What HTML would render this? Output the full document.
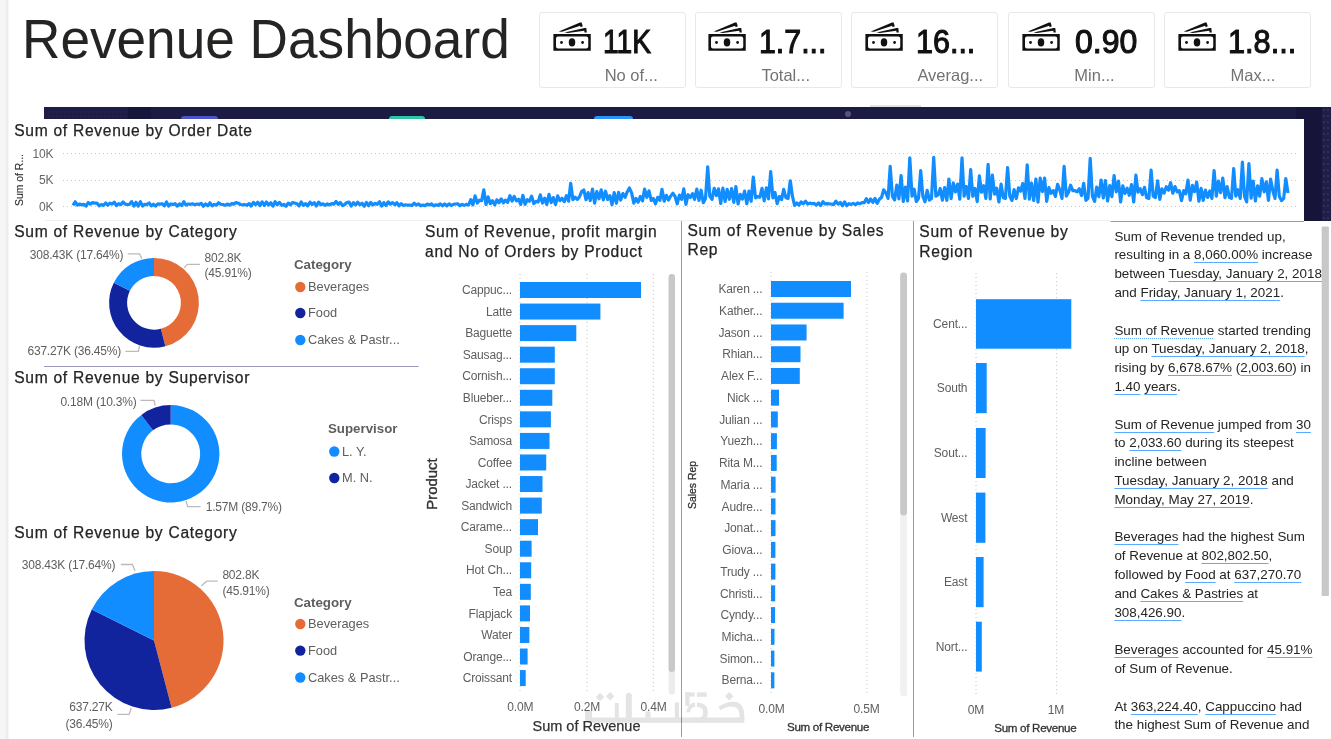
<!DOCTYPE html>
<html><head><meta charset="utf-8"><title>Revenue Dashboard</title><style>
*{margin:0;padding:0;box-sizing:border-box}
html,body{width:1331px;height:739px;overflow:hidden;background:#fff}
body{position:relative;font-family:"Liberation Sans",sans-serif;color:#252423}
.a{position:absolute;white-space:nowrap}
.u{text-decoration:underline;text-decoration-color:#5AABFF;text-underline-offset:3px;text-decoration-thickness:1.2px}
.ud{text-decoration:underline dotted;text-decoration-color:#5AABFF;text-underline-offset:3px;text-decoration-thickness:1.2px}
</style></head><body>
<div style="position:absolute;left:0;top:0;width:9px;height:739px;background:linear-gradient(90deg,#f7f7f7 0,#f4f4f4 6px,#e9e9e9 7px,#eeeeee 8px,#fff 9px)"></div>
<div class="a" style="top:6.17px;font-size:55.5px;line-height:66.6px;color:#252423;left:22.20px;transform-origin:0 0;transform:scaleX(0.958);">Revenue Dashboard</div>
<div style="position:absolute;left:538.8px;top:12.3px;width:147px;height:76px;border:1px solid #e8e8e8;border-radius:3px;background:#fff"><svg width="45" height="37" viewBox="0 0 45 37" style="position:absolute;left:9.9px;top:5px"><path fill="#111" fill-rule="evenodd" d="M3.4 15.9H40.75V32.75H3.4Z M8 18.6H36.25Q38.25 18.6 38.25 20.6V28.5Q38.25 30.5 36.25 30.5H8Q6 30.5 6 28.5V20.6Q6 18.6 8 18.6Z"/><ellipse cx="22" cy="24.4" rx="3.25" ry="4.1" fill="#111"/><circle cx="11.5" cy="24.5" r="1.4" fill="#111"/><circle cx="32.6" cy="24.5" r="1.4" fill="#111"/><path fill="#111" d="M8.75 13.4L30 4.6L31.6 4.6L32.8 8.3L30.6 9.3L30.2 7.8L12 13.8Z"/><path fill="#111" d="M14.5 14.5L34.5 10.1L36.3 10.1L36.8 14.4L34.5 14.6L34.3 12.7L18 14.9Z"/></svg></div>
<div class="a" style="top:20.82px;font-size:34px;line-height:40.8px;color:#111;left:603.00px;-webkit-text-stroke:1.1px #111;transform-origin:0 0;transform:scaleX(0.829);">11K</div>
<div class="a" style="top:66.28px;font-size:16.5px;line-height:19.8px;color:#737373;left:604.70px;">No of...</div>
<div style="position:absolute;left:694.5px;top:12.3px;width:147px;height:76px;border:1px solid #e8e8e8;border-radius:3px;background:#fff"><svg width="45" height="37" viewBox="0 0 45 37" style="position:absolute;left:9.9px;top:5px"><path fill="#111" fill-rule="evenodd" d="M3.4 15.9H40.75V32.75H3.4Z M8 18.6H36.25Q38.25 18.6 38.25 20.6V28.5Q38.25 30.5 36.25 30.5H8Q6 30.5 6 28.5V20.6Q6 18.6 8 18.6Z"/><ellipse cx="22" cy="24.4" rx="3.25" ry="4.1" fill="#111"/><circle cx="11.5" cy="24.5" r="1.4" fill="#111"/><circle cx="32.6" cy="24.5" r="1.4" fill="#111"/><path fill="#111" d="M8.75 13.4L30 4.6L31.6 4.6L32.8 8.3L30.6 9.3L30.2 7.8L12 13.8Z"/><path fill="#111" d="M14.5 14.5L34.5 10.1L36.3 10.1L36.8 14.4L34.5 14.6L34.3 12.7L18 14.9Z"/></svg></div>
<div class="a" style="top:20.82px;font-size:34px;line-height:40.8px;color:#111;left:758.58px;-webkit-text-stroke:1.1px #111;transform-origin:0 0;transform:scaleX(0.892);">1.7...</div>
<div class="a" style="top:66.28px;font-size:16.5px;line-height:19.8px;color:#737373;left:761.40px;">Total...</div>
<div style="position:absolute;left:851.2px;top:12.3px;width:147px;height:76px;border:1px solid #e8e8e8;border-radius:3px;background:#fff"><svg width="45" height="37" viewBox="0 0 45 37" style="position:absolute;left:9.9px;top:5px"><path fill="#111" fill-rule="evenodd" d="M3.4 15.9H40.75V32.75H3.4Z M8 18.6H36.25Q38.25 18.6 38.25 20.6V28.5Q38.25 30.5 36.25 30.5H8Q6 30.5 6 28.5V20.6Q6 18.6 8 18.6Z"/><ellipse cx="22" cy="24.4" rx="3.25" ry="4.1" fill="#111"/><circle cx="11.5" cy="24.5" r="1.4" fill="#111"/><circle cx="32.6" cy="24.5" r="1.4" fill="#111"/><path fill="#111" d="M8.75 13.4L30 4.6L31.6 4.6L32.8 8.3L30.6 9.3L30.2 7.8L12 13.8Z"/><path fill="#111" d="M14.5 14.5L34.5 10.1L36.3 10.1L36.8 14.4L34.5 14.6L34.3 12.7L18 14.9Z"/></svg></div>
<div class="a" style="top:20.82px;font-size:34px;line-height:40.8px;color:#111;left:916.26px;-webkit-text-stroke:1.1px #111;transform-origin:0 0;transform:scaleX(0.897);">16...</div>
<div class="a" style="top:66.28px;font-size:16.5px;line-height:19.8px;color:#737373;left:917.40px;">Averag...</div>
<div style="position:absolute;left:1008.2px;top:12.3px;width:147px;height:76px;border:1px solid #e8e8e8;border-radius:3px;background:#fff"><svg width="45" height="37" viewBox="0 0 45 37" style="position:absolute;left:9.9px;top:5px"><path fill="#111" fill-rule="evenodd" d="M3.4 15.9H40.75V32.75H3.4Z M8 18.6H36.25Q38.25 18.6 38.25 20.6V28.5Q38.25 30.5 36.25 30.5H8Q6 30.5 6 28.5V20.6Q6 18.6 8 18.6Z"/><ellipse cx="22" cy="24.4" rx="3.25" ry="4.1" fill="#111"/><circle cx="11.5" cy="24.5" r="1.4" fill="#111"/><circle cx="32.6" cy="24.5" r="1.4" fill="#111"/><path fill="#111" d="M8.75 13.4L30 4.6L31.6 4.6L32.8 8.3L30.6 9.3L30.2 7.8L12 13.8Z"/><path fill="#111" d="M14.5 14.5L34.5 10.1L36.3 10.1L36.8 14.4L34.5 14.6L34.3 12.7L18 14.9Z"/></svg></div>
<div class="a" style="top:20.82px;font-size:34px;line-height:40.8px;color:#111;left:1074.63px;-webkit-text-stroke:1.1px #111;transform-origin:0 0;transform:scaleX(0.942);">0.90</div>
<div class="a" style="top:66.28px;font-size:16.5px;line-height:19.8px;color:#737373;left:1074.30px;">Min...</div>
<div style="position:absolute;left:1164.2px;top:12.3px;width:147px;height:76px;border:1px solid #e8e8e8;border-radius:3px;background:#fff"><svg width="45" height="37" viewBox="0 0 45 37" style="position:absolute;left:9.9px;top:5px"><path fill="#111" fill-rule="evenodd" d="M3.4 15.9H40.75V32.75H3.4Z M8 18.6H36.25Q38.25 18.6 38.25 20.6V28.5Q38.25 30.5 36.25 30.5H8Q6 30.5 6 28.5V20.6Q6 18.6 8 18.6Z"/><ellipse cx="22" cy="24.4" rx="3.25" ry="4.1" fill="#111"/><circle cx="11.5" cy="24.5" r="1.4" fill="#111"/><circle cx="32.6" cy="24.5" r="1.4" fill="#111"/><path fill="#111" d="M8.75 13.4L30 4.6L31.6 4.6L32.8 8.3L30.6 9.3L30.2 7.8L12 13.8Z"/><path fill="#111" d="M14.5 14.5L34.5 10.1L36.3 10.1L36.8 14.4L34.5 14.6L34.3 12.7L18 14.9Z"/></svg></div>
<div class="a" style="top:20.82px;font-size:34px;line-height:40.8px;color:#111;left:1228.14px;-webkit-text-stroke:1.1px #111;transform-origin:0 0;transform:scaleX(0.903);">1.8...</div>
<div class="a" style="top:66.28px;font-size:16.5px;line-height:19.8px;color:#737373;left:1230.50px;">Max...</div>
<div style="position:absolute;left:44px;top:107px;width:1287px;height:113.5px;background:#1c1b44"></div>
<div style="position:absolute;left:44px;top:107px;width:84px;height:12px;background:#1e1d48"></div>
<div style="position:absolute;left:47px;top:110px;width:79px;height:8px;background-image:radial-gradient(circle,#6b6440 0.45px,transparent 0.75px);background-size:4px 4px;opacity:0.5"></div>
<div style="position:absolute;left:128px;top:107px;width:23px;height:12px;background:#16153a"></div>
<div style="position:absolute;left:1296px;top:107px;width:26px;height:113.5px;background:#161539"></div>
<div style="position:absolute;left:1322px;top:107px;width:9px;height:113.5px;background:#1f1e4b;background-image:radial-gradient(circle,#3a3a50 0.6px,transparent 0.9px);background-size:4px 6px"></div>
<div style="position:absolute;left:180.7px;top:116.3px;width:37.5px;height:6px;border-radius:3px 3px 0 0;background:#4a55c8"></div>
<div style="position:absolute;left:389px;top:116.3px;width:36px;height:6px;border-radius:3px 3px 0 0;background:#2fc4a3"></div>
<div style="position:absolute;left:594px;top:116.3px;width:39px;height:6px;border-radius:3px 3px 0 0;background:#2a93f5"></div>
<div style="position:absolute;left:845px;top:111px;width:6px;height:6px;border-radius:3px;background:#55537a"></div>
<div style="position:absolute;left:870px;top:105px;width:51px;height:1.5px;background:#e4e4e4"></div>
<div style="position:absolute;left:9px;top:119px;width:1295px;height:101.5px;background:#fff"></div>
<div class="a" style="top:121.73px;font-size:15.6px;line-height:18.72px;color:#252423;left:14.20px;letter-spacing:0.72px;-webkit-text-stroke:0.25px #252423;">Sum of Revenue by Order Date</div>
<div class="a" style="top:146.64px;font-size:12px;line-height:14.4px;color:#666;letter-spacing:-0.2px;right:1277.70px;text-align:right;">10K</div>
<div class="a" style="top:173.34px;font-size:12px;line-height:14.4px;color:#666;letter-spacing:-0.2px;right:1277.70px;text-align:right;">5K</div>
<div class="a" style="top:199.94px;font-size:12px;line-height:14.4px;color:#666;letter-spacing:-0.2px;right:1277.70px;text-align:right;">0K</div>
<div class="a" style="left:-7px;top:173.6px;width:54px;font-size:10.4px;line-height:12px;color:#333;-webkit-text-stroke:0.15px #333;transform:rotate(-90deg);text-align:center">Sum of R...</div>
<svg style="position:absolute;left:0;top:0" width="1331" height="739" viewBox="0 0 1331 739"><line x1="63" x2="1298" y1="153.5" y2="153.5" stroke="#c8c8c8" stroke-width="1" stroke-dasharray="1 3"/><line x1="63" x2="1298" y1="180.5" y2="180.5" stroke="#c8c8c8" stroke-width="1" stroke-dasharray="1 3"/><line x1="63" x2="1298" y1="206.5" y2="206.5" stroke="#c8c8c8" stroke-width="1" stroke-dasharray="1 3"/><polyline points="73.0,205.3 75.2,201.8 77.3,205.2 79.5,204.0 81.7,204.9 83.9,204.3 86.0,206.1 88.2,202.5 90.4,204.1 92.6,202.6 94.7,203.2 96.9,203.0 99.1,205.9 101.3,204.5 103.4,205.4 105.6,203.0 107.8,205.2 109.9,203.2 112.1,204.1 114.3,202.1 116.5,205.6 118.6,203.7 120.8,204.6 123.0,202.0 125.2,204.2 127.3,204.5 129.5,204.3 131.7,201.6 133.9,206.1 136.0,202.3 138.2,206.1 140.4,201.7 142.6,206.1 144.7,204.3 146.9,204.6 149.1,202.9 151.2,205.9 153.4,204.2 155.6,206.1 157.8,203.9 159.9,204.1 162.1,203.7 164.3,205.9 166.5,202.0 168.6,206.1 170.8,203.9 173.0,204.6 175.2,203.7 177.3,206.1 179.5,203.9 181.7,205.5 183.8,201.7 186.0,205.1 188.2,204.0 190.4,204.3 192.5,203.8 194.7,204.7 196.9,204.0 199.1,204.4 201.2,203.3 203.4,206.2 205.6,203.9 207.8,205.8 209.9,202.8 212.1,205.9 214.3,204.4 216.5,205.1 218.6,202.7 220.8,204.3 223.0,204.5 225.1,205.4 227.3,204.0 229.5,205.1 231.7,203.5 233.8,204.1 236.0,202.5 238.2,203.2 240.4,204.5 242.5,204.8 244.7,204.5 246.9,205.3 249.1,203.6 251.2,206.1 253.4,202.4 255.6,204.7 257.7,202.2 259.9,205.6 262.1,201.9 264.3,205.4 266.4,202.0 268.6,205.0 270.8,202.8 273.0,206.1 275.1,201.6 277.3,204.7 279.5,202.4 281.7,205.4 283.8,204.3 286.0,206.2 288.2,203.1 290.4,204.8 292.5,202.7 294.7,203.0 296.9,203.7 299.0,205.9 301.2,201.9 303.4,205.4 305.6,203.6 307.7,205.9 309.9,202.2 312.1,204.4 314.3,202.8 316.4,206.0 318.6,202.1 320.8,204.8 323.0,203.8 325.1,205.3 327.3,203.9 329.5,205.0 331.6,203.6 333.8,204.1 336.0,201.5 338.2,204.4 340.3,202.5 342.5,205.7 344.7,204.5 346.9,202.5 349.0,202.1 351.2,206.0 353.4,202.7 355.6,204.9 357.7,202.2 359.9,204.8 362.1,203.2 364.3,206.2 366.4,202.4 368.6,205.7 370.8,202.5 372.9,205.0 375.1,203.4 377.3,204.3 379.5,201.8 381.6,206.0 383.8,202.7 386.0,205.5 388.2,201.9 390.3,204.2 392.5,202.6 394.7,204.7 396.9,202.7 399.0,205.9 401.2,203.7 403.4,205.5 405.5,204.8 407.7,205.2 409.9,205.1 412.1,205.5 414.2,203.1 416.4,205.2 418.6,204.0 420.8,205.8 422.9,205.0 425.1,205.6 427.3,204.0 429.5,205.0 431.6,203.8 433.8,205.9 436.0,204.8 438.2,205.4 440.3,203.9 442.5,205.8 444.7,203.9 446.8,205.9 449.0,203.8 451.2,205.5 453.4,204.4 455.5,204.0 457.7,203.8 459.9,205.7 462.1,204.4 464.2,205.4 466.4,204.4 468.6,205.0 470.8,199.7 472.9,204.8 475.1,195.9 477.3,203.1 479.4,200.2 481.6,200.7 483.8,189.8 486.0,204.5 488.1,196.8 490.3,203.7 492.5,200.7 494.7,204.8 496.8,199.8 499.0,202.8 501.2,198.9 503.4,202.8 505.5,200.1 507.7,202.3 509.9,195.7 512.1,201.1 514.2,196.4 516.4,200.9 518.6,199.3 520.7,204.4 522.9,195.4 525.1,204.3 527.3,199.7 529.4,201.2 531.6,196.1 533.8,203.5 536.0,201.3 538.1,202.0 540.3,194.9 542.5,203.0 544.7,198.1 546.8,204.5 549.0,194.3 551.2,202.7 553.3,197.6 555.5,204.5 557.7,195.8 559.9,200.7 562.0,198.3 564.2,201.6 566.4,195.7 568.6,201.2 570.7,183.3 572.9,199.7 575.1,197.2 577.3,199.4 579.4,197.0 581.6,191.6 583.8,189.9 586.0,199.7 588.1,192.6 590.3,200.5 592.5,189.0 594.6,203.1 596.8,191.5 599.0,198.8 601.2,189.9 603.3,199.8 605.5,191.2 607.7,199.5 609.9,195.6 612.0,204.7 614.2,192.5 616.4,203.3 618.6,192.3 620.7,200.0 622.9,193.6 625.1,197.3 627.2,191.9 629.4,187.9 631.6,192.8 633.8,203.1 635.9,198.4 638.1,202.2 640.3,196.5 642.5,200.9 644.6,189.1 646.8,197.3 649.0,190.8 651.2,200.5 653.3,198.5 655.5,203.8 657.7,197.3 659.9,200.4 662.0,189.4 664.2,201.1 666.4,195.3 668.5,200.1 670.7,196.1 672.9,193.2 675.1,196.5 677.2,203.8 679.4,195.1 681.6,199.3 683.8,188.9 685.9,204.3 688.1,194.7 690.3,197.5 692.5,193.7 694.6,199.5 696.8,189.0 699.0,200.5 701.1,190.2 703.3,202.7 705.5,198.4 707.7,166.9 709.8,196.2 712.0,199.4 714.2,188.3 716.4,195.6 718.5,188.8 720.7,203.4 722.9,188.2 725.1,201.4 727.2,189.4 729.4,199.3 731.6,188.6 733.8,202.3 735.9,186.6 738.1,204.0 740.3,194.3 742.4,199.1 744.6,191.1 746.8,203.6 749.0,191.0 751.1,201.3 753.3,177.1 755.5,197.9 757.7,196.6 759.8,197.3 762.0,188.4 764.2,200.8 766.4,187.9 768.5,198.8 770.7,171.7 772.9,197.9 775.0,192.5 777.2,203.6 779.4,196.5 781.6,199.6 783.7,189.4 785.9,197.7 788.1,198.4 790.3,180.8 792.4,196.2 794.6,205.3 796.8,203.0 799.0,205.1 801.1,201.9 803.3,203.8 805.5,201.3 807.7,204.1 809.8,203.1 812.0,203.8 814.2,203.4 816.3,205.1 818.5,202.9 820.7,205.5 822.9,201.7 825.0,204.0 827.2,203.6 829.4,203.9 831.6,204.0 833.7,204.7 835.9,201.1 838.1,204.1 840.3,202.5 842.4,205.7 844.6,201.9 846.8,205.7 848.9,203.7 851.1,204.4 853.3,203.4 855.5,204.7 857.6,202.9 859.8,203.7 862.0,202.6 864.2,202.7 866.3,198.7 868.5,202.3 870.7,199.0 872.9,202.3 875.0,198.5 877.2,203.3 879.4,199.2 881.6,197.2 883.7,189.8 885.9,193.0 888.1,198.4 890.2,166.4 892.4,196.2 894.6,199.9 896.8,185.0 898.9,198.8 901.1,175.5 903.3,201.5 905.5,187.0 907.6,200.9 909.8,157.9 912.0,196.2 914.2,189.2 916.3,201.5 918.5,198.4 920.7,170.7 922.8,196.2 925.0,201.8 927.2,190.4 929.4,200.1 931.5,198.4 933.7,157.3 935.9,196.2 938.1,194.9 940.2,188.5 942.4,200.1 944.6,187.5 946.8,200.3 948.9,179.2 951.1,198.6 953.3,182.9 955.5,191.9 957.6,184.1 959.8,199.2 962.0,157.9 964.1,196.2 966.3,186.5 968.5,198.4 970.7,169.6 972.8,196.4 975.0,188.5 977.2,201.6 979.4,175.9 981.5,192.2 983.7,185.7 985.9,198.4 988.1,164.3 990.2,199.0 992.4,175.1 994.6,194.1 996.7,188.2 998.9,202.0 1001.1,184.2 1003.3,197.8 1005.4,198.4 1007.6,167.5 1009.8,196.2 1012.0,200.4 1014.1,189.6 1016.3,198.5 1018.5,187.9 1020.7,191.2 1022.8,183.5 1025.0,198.4 1027.2,164.8 1029.4,199.1 1031.5,183.1 1033.7,200.5 1035.9,179.0 1038.0,202.1 1040.2,178.1 1042.4,191.6 1044.6,178.1 1046.7,201.3 1048.9,187.7 1051.1,193.3 1053.3,190.6 1055.4,196.4 1057.6,184.3 1059.8,190.0 1062.0,198.4 1064.1,166.4 1066.3,196.2 1068.5,192.3 1070.6,185.2 1072.8,190.6 1075.0,190.7 1077.2,191.8 1079.3,188.7 1081.5,195.6 1083.7,183.3 1085.9,200.4 1088.0,198.4 1090.2,158.4 1092.4,196.2 1094.6,201.4 1096.7,187.1 1098.9,196.6 1101.1,180.0 1103.3,198.0 1105.4,180.5 1107.6,201.0 1109.8,185.6 1111.9,196.7 1114.1,175.5 1116.3,191.8 1118.5,181.1 1120.6,202.0 1122.8,185.9 1125.0,193.4 1127.2,188.2 1129.3,195.3 1131.5,184.5 1133.7,202.0 1135.9,175.1 1138.0,192.2 1140.2,188.7 1142.4,194.7 1144.5,187.3 1146.7,197.8 1148.9,198.4 1151.1,170.1 1153.2,196.2 1155.4,197.6 1157.6,180.8 1159.8,199.3 1161.9,188.9 1164.1,193.1 1166.3,186.7 1168.5,190.2 1170.6,182.7 1172.8,193.2 1175.0,186.6 1177.2,191.8 1179.3,190.7 1181.5,200.6 1183.7,190.6 1185.8,193.8 1188.0,180.1 1190.2,200.2 1192.4,185.4 1194.5,191.7 1196.7,182.1 1198.9,201.2 1201.1,188.4 1203.2,200.4 1205.4,190.1 1207.6,197.4 1209.8,191.0 1211.9,198.4 1214.1,170.7 1216.3,196.2 1218.4,181.2 1220.6,192.6 1222.8,178.1 1225.0,197.7 1227.1,186.6 1229.3,197.3 1231.5,198.4 1233.7,168.5 1235.8,196.2 1238.0,189.7 1240.2,198.4 1242.4,162.1 1244.5,196.2 1246.7,201.9 1248.9,163.7 1251.1,198.2 1253.2,181.1 1255.4,201.0 1257.6,185.8 1259.7,196.1 1261.9,178.7 1264.1,191.8 1266.3,181.8 1268.4,200.4 1270.6,179.1 1272.8,190.8 1275.0,198.4 1277.1,170.1 1279.3,196.2 1281.5,200.6 1283.7,198.4 1285.8,178.7 1288.0,193.0" fill="none" stroke="#118DFF" stroke-width="3.2" stroke-linejoin="round"/></svg>
<div style="position:absolute;left:45px;top:220px;width:1065px;height:1px;background:#efefef"></div>
<svg style="position:absolute;left:0;top:0" width="1331" height="739" viewBox="0 0 1331 739"><path d="M154.00 257.90A44.9 44.9 0 0 1 165.39 346.23L160.83 328.82A26.9 26.9 0 0 0 154.00 275.90Z" fill="#E66C37"/><path d="M165.39 346.23A44.9 44.9 0 0 1 113.82 282.77L129.93 290.80A26.9 26.9 0 0 0 160.83 328.82Z" fill="#12239E"/><path d="M113.82 282.77A44.9 44.9 0 0 1 154.00 257.90L154.00 275.90A26.9 26.9 0 0 0 129.93 290.80Z" fill="#118DFF"/><path d="M170.70 405.10A48.7 48.7 0 1 1 141.32 414.96L152.97 430.35A29.4 29.4 0 1 0 170.70 424.40Z" fill="#118DFF"/><path d="M141.32 414.96A48.7 48.7 0 0 1 170.70 405.10L170.70 424.40A29.4 29.4 0 0 0 152.97 430.35Z" fill="#12239E"/><path d="M154 640.5L154.00 571.00A69.5 69.5 0 0 1 171.64 707.73Z" fill="#E66C37"/><path d="M154 640.5L171.64 707.73A69.5 69.5 0 0 1 91.80 609.49Z" fill="#12239E"/><path d="M154 640.5L91.80 609.49A69.5 69.5 0 0 1 154.00 571.00Z" fill="#118DFF"/><polyline points="184.2,267.6 187.5,264.4 200,264.4" fill="none" stroke="#BDBBB9" stroke-width="1.3"/><polyline points="141.7,258.7 139.5,253.8 127.7,253.8" fill="none" stroke="#BDBBB9" stroke-width="1.3"/><polyline points="139.5,345.6 138.4,351.3 125.4,351.3" fill="none" stroke="#BDBBB9" stroke-width="1.3"/><polyline points="140.4,400.4 154,400.4 155.2,405.7" fill="none" stroke="#BDBBB9" stroke-width="1.3"/><polyline points="186,501 187.7,506.7 200.6,506.7" fill="none" stroke="#BDBBB9" stroke-width="1.3"/><polyline points="120.8,564.5 132.5,564.5 135,571" fill="none" stroke="#BDBBB9" stroke-width="1.3"/><polyline points="201.3,586 206.6,581.2 217.7,581.2" fill="none" stroke="#BDBBB9" stroke-width="1.3"/><polyline points="131.2,708 129.3,714.4 117.4,714.4" fill="none" stroke="#BDBBB9" stroke-width="1.3"/><line x1="44" x2="418.5" y1="366.5" y2="366.5" stroke="#9a98b8" stroke-width="1"/><line x1="681.5" x2="681.5" y1="221" y2="737" stroke="#9a98b8" stroke-width="1"/><line x1="913.5" x2="913.5" y1="221" y2="737" stroke="#9a98b8" stroke-width="1"/><line x1="1110.5" x2="1304" y1="221.5" y2="221.5" stroke="#9a98b8" stroke-width="1"/><line x1="520" x2="520" y1="274" y2="692" stroke="#c8c8c8" stroke-width="1" stroke-dasharray="1 3"/><line x1="587" x2="587" y1="274" y2="692" stroke="#c8c8c8" stroke-width="1" stroke-dasharray="1 3"/><line x1="653.4" x2="653.4" y1="274" y2="692" stroke="#c8c8c8" stroke-width="1" stroke-dasharray="1 3"/><rect x="520" y="282.00" width="121.00" height="16" fill="#118DFF"/><rect x="520" y="303.56" width="80.40" height="16" fill="#118DFF"/><rect x="520" y="325.12" width="56.30" height="16" fill="#118DFF"/><rect x="520" y="346.68" width="34.80" height="16" fill="#118DFF"/><rect x="520" y="368.24" width="34.80" height="16" fill="#118DFF"/><rect x="520" y="389.80" width="32.30" height="16" fill="#118DFF"/><rect x="520" y="411.36" width="30.90" height="16" fill="#118DFF"/><rect x="520" y="432.92" width="29.50" height="16" fill="#118DFF"/><rect x="520" y="454.48" width="26.20" height="16" fill="#118DFF"/><rect x="520" y="476.04" width="22.50" height="16" fill="#118DFF"/><rect x="520" y="497.60" width="21.80" height="16" fill="#118DFF"/><rect x="520" y="519.16" width="18.00" height="16" fill="#118DFF"/><rect x="520" y="540.72" width="11.60" height="16" fill="#118DFF"/><rect x="520" y="562.28" width="11.20" height="16" fill="#118DFF"/><rect x="520" y="583.84" width="10.80" height="16" fill="#118DFF"/><rect x="520" y="605.40" width="10.00" height="16" fill="#118DFF"/><rect x="520" y="626.96" width="9.40" height="16" fill="#118DFF"/><rect x="520" y="648.52" width="7.60" height="16" fill="#118DFF"/><rect x="520" y="670.08" width="5.70" height="16" fill="#118DFF"/><rect x="668.6" y="274" width="6.4" height="420.5" rx="3.2" fill="#ececec"/><rect x="668.6" y="274" width="6.4" height="398" rx="3.2" fill="#c8c8c8"/><line x1="771" x2="771" y1="272" y2="694" stroke="#c8c8c8" stroke-width="1" stroke-dasharray="1 3"/><line x1="866.9" x2="866.9" y1="272" y2="694" stroke="#c8c8c8" stroke-width="1" stroke-dasharray="1 3"/><rect x="771" y="281.00" width="80.00" height="16" fill="#118DFF"/><rect x="771" y="302.74" width="72.60" height="16" fill="#118DFF"/><rect x="771" y="324.48" width="35.60" height="16" fill="#118DFF"/><rect x="771" y="346.22" width="29.50" height="16" fill="#118DFF"/><rect x="771" y="367.96" width="28.80" height="16" fill="#118DFF"/><rect x="771" y="389.70" width="8.00" height="16" fill="#118DFF"/><rect x="771" y="411.44" width="6.80" height="16" fill="#118DFF"/><rect x="771" y="433.18" width="5.90" height="16" fill="#118DFF"/><rect x="771" y="454.92" width="5.70" height="16" fill="#118DFF"/><rect x="771" y="476.66" width="4.60" height="16" fill="#118DFF"/><rect x="771" y="498.40" width="4.50" height="16" fill="#118DFF"/><rect x="771" y="520.14" width="4.50" height="16" fill="#118DFF"/><rect x="771" y="541.88" width="4.40" height="16" fill="#118DFF"/><rect x="771" y="563.62" width="4.40" height="16" fill="#118DFF"/><rect x="771" y="585.36" width="4.20" height="16" fill="#118DFF"/><rect x="771" y="607.10" width="4.10" height="16" fill="#118DFF"/><rect x="771" y="628.84" width="3.50" height="16" fill="#118DFF"/><rect x="771" y="650.58" width="3.40" height="16" fill="#118DFF"/><rect x="771" y="672.32" width="3.40" height="16" fill="#118DFF"/><rect x="900.2" y="272.4" width="6.8" height="424" rx="3.4" fill="#f1f1f1"/><rect x="900.2" y="272.4" width="6.8" height="243" rx="3.4" fill="#c8c8c8"/><line x1="976" x2="976" y1="273" y2="694" stroke="#c8c8c8" stroke-width="1" stroke-dasharray="1 3"/><line x1="1056.6" x2="1056.6" y1="273" y2="694" stroke="#c8c8c8" stroke-width="1" stroke-dasharray="1 3"/><rect x="976" y="299.2" width="95.30" height="49.50" fill="#118DFF"/><rect x="976" y="363" width="10.70" height="50.20" fill="#118DFF"/><rect x="976" y="428" width="9.60" height="50.00" fill="#118DFF"/><rect x="976" y="492.6" width="9.40" height="50.20" fill="#118DFF"/><rect x="976" y="557" width="7.60" height="50.20" fill="#118DFF"/><rect x="976" y="621.7" width="5.80" height="49.90" fill="#118DFF"/><circle cx="300.3" cy="287" r="5.2" fill="#E66C37"/><circle cx="300.3" cy="313" r="5.2" fill="#12239E"/><circle cx="300.3" cy="340" r="5.2" fill="#118DFF"/><circle cx="334.3" cy="451.5" r="5.2" fill="#118DFF"/><circle cx="334.3" cy="478" r="5.2" fill="#12239E"/><circle cx="300.3" cy="624" r="5.2" fill="#E66C37"/><circle cx="300.3" cy="650.6" r="5.2" fill="#12239E"/><circle cx="300.3" cy="677.5" r="5.2" fill="#118DFF"/><rect x="1321.7" y="226.6" width="7.2" height="369.5" rx="1" fill="#c8c8c8"/></svg>
<div class="a" style="top:283.14px;font-size:12px;line-height:14.4px;color:#605E5C;letter-spacing:-0.15px;right:819.00px;text-align:right;">Cappuc...</div>
<div class="a" style="top:304.70px;font-size:12px;line-height:14.4px;color:#605E5C;letter-spacing:-0.15px;right:819.00px;text-align:right;">Latte</div>
<div class="a" style="top:326.26px;font-size:12px;line-height:14.4px;color:#605E5C;letter-spacing:-0.15px;right:819.00px;text-align:right;">Baguette</div>
<div class="a" style="top:347.82px;font-size:12px;line-height:14.4px;color:#605E5C;letter-spacing:-0.15px;right:819.00px;text-align:right;">Sausag...</div>
<div class="a" style="top:369.38px;font-size:12px;line-height:14.4px;color:#605E5C;letter-spacing:-0.15px;right:819.00px;text-align:right;">Cornish...</div>
<div class="a" style="top:390.94px;font-size:12px;line-height:14.4px;color:#605E5C;letter-spacing:-0.15px;right:819.00px;text-align:right;">Blueber...</div>
<div class="a" style="top:412.50px;font-size:12px;line-height:14.4px;color:#605E5C;letter-spacing:-0.15px;right:819.00px;text-align:right;">Crisps</div>
<div class="a" style="top:434.06px;font-size:12px;line-height:14.4px;color:#605E5C;letter-spacing:-0.15px;right:819.00px;text-align:right;">Samosa</div>
<div class="a" style="top:455.62px;font-size:12px;line-height:14.4px;color:#605E5C;letter-spacing:-0.15px;right:819.00px;text-align:right;">Coffee</div>
<div class="a" style="top:477.18px;font-size:12px;line-height:14.4px;color:#605E5C;letter-spacing:-0.15px;right:819.00px;text-align:right;">Jacket ...</div>
<div class="a" style="top:498.74px;font-size:12px;line-height:14.4px;color:#605E5C;letter-spacing:-0.15px;right:819.00px;text-align:right;">Sandwich</div>
<div class="a" style="top:520.30px;font-size:12px;line-height:14.4px;color:#605E5C;letter-spacing:-0.15px;right:819.00px;text-align:right;">Carame...</div>
<div class="a" style="top:541.86px;font-size:12px;line-height:14.4px;color:#605E5C;letter-spacing:-0.15px;right:819.00px;text-align:right;">Soup</div>
<div class="a" style="top:563.42px;font-size:12px;line-height:14.4px;color:#605E5C;letter-spacing:-0.15px;right:819.00px;text-align:right;">Hot Ch...</div>
<div class="a" style="top:584.98px;font-size:12px;line-height:14.4px;color:#605E5C;letter-spacing:-0.15px;right:819.00px;text-align:right;">Tea</div>
<div class="a" style="top:606.54px;font-size:12px;line-height:14.4px;color:#605E5C;letter-spacing:-0.15px;right:819.00px;text-align:right;">Flapjack</div>
<div class="a" style="top:628.10px;font-size:12px;line-height:14.4px;color:#605E5C;letter-spacing:-0.15px;right:819.00px;text-align:right;">Water</div>
<div class="a" style="top:649.66px;font-size:12px;line-height:14.4px;color:#605E5C;letter-spacing:-0.15px;right:819.00px;text-align:right;">Orange...</div>
<div class="a" style="top:671.22px;font-size:12px;line-height:14.4px;color:#605E5C;letter-spacing:-0.15px;right:819.00px;text-align:right;">Croissant</div>
<div class="a" style="top:699.64px;font-size:12px;line-height:14.4px;color:#605E5C;letter-spacing:-0.15px;left:220.30px;width:600px;text-align:center;">0.0M</div>
<div class="a" style="top:699.64px;font-size:12px;line-height:14.4px;color:#605E5C;letter-spacing:-0.15px;left:287.00px;width:600px;text-align:center;">0.2M</div>
<div class="a" style="top:699.64px;font-size:12px;line-height:14.4px;color:#605E5C;letter-spacing:-0.15px;left:353.60px;width:600px;text-align:center;">0.4M</div>
<div class="a" style="top:718.48px;font-size:14.5px;line-height:17.4px;color:#333;left:286.50px;width:600px;text-align:center;-webkit-text-stroke:0.25px #333;">Sum of Revenue</div>
<div class="a" style="left:402px;top:477.3px;width:60px;text-align:center;font-size:14.9px;line-height:14px;color:#333;-webkit-text-stroke:0.35px #333;transform:rotate(-90deg)">Product</div>
<div class="a" style="top:222.83px;font-size:15.6px;line-height:18.72px;color:#252423;left:425.00px;letter-spacing:0.72px;-webkit-text-stroke:0.25px #252423;">Sum of Revenue, profit margin</div>
<div class="a" style="top:242.73px;font-size:15.6px;line-height:18.72px;color:#252423;left:425.00px;letter-spacing:0.72px;-webkit-text-stroke:0.25px #252423;">and No of Orders by Product</div>
<div class="a" style="top:282.14px;font-size:12px;line-height:14.4px;color:#605E5C;letter-spacing:-0.15px;right:568.60px;text-align:right;">Karen ...</div>
<div class="a" style="top:303.88px;font-size:12px;line-height:14.4px;color:#605E5C;letter-spacing:-0.15px;right:568.60px;text-align:right;">Kather...</div>
<div class="a" style="top:325.62px;font-size:12px;line-height:14.4px;color:#605E5C;letter-spacing:-0.15px;right:568.60px;text-align:right;">Jason ...</div>
<div class="a" style="top:347.36px;font-size:12px;line-height:14.4px;color:#605E5C;letter-spacing:-0.15px;right:568.60px;text-align:right;">Rhian...</div>
<div class="a" style="top:369.10px;font-size:12px;line-height:14.4px;color:#605E5C;letter-spacing:-0.15px;right:568.60px;text-align:right;">Alex F...</div>
<div class="a" style="top:390.84px;font-size:12px;line-height:14.4px;color:#605E5C;letter-spacing:-0.15px;right:568.60px;text-align:right;">Nick ...</div>
<div class="a" style="top:412.58px;font-size:12px;line-height:14.4px;color:#605E5C;letter-spacing:-0.15px;right:568.60px;text-align:right;">Julian ...</div>
<div class="a" style="top:434.32px;font-size:12px;line-height:14.4px;color:#605E5C;letter-spacing:-0.15px;right:568.60px;text-align:right;">Yuezh...</div>
<div class="a" style="top:456.06px;font-size:12px;line-height:14.4px;color:#605E5C;letter-spacing:-0.15px;right:568.60px;text-align:right;">Rita M...</div>
<div class="a" style="top:477.80px;font-size:12px;line-height:14.4px;color:#605E5C;letter-spacing:-0.15px;right:568.60px;text-align:right;">Maria ...</div>
<div class="a" style="top:499.54px;font-size:12px;line-height:14.4px;color:#605E5C;letter-spacing:-0.15px;right:568.60px;text-align:right;">Audre...</div>
<div class="a" style="top:521.28px;font-size:12px;line-height:14.4px;color:#605E5C;letter-spacing:-0.15px;right:568.60px;text-align:right;">Jonat...</div>
<div class="a" style="top:543.02px;font-size:12px;line-height:14.4px;color:#605E5C;letter-spacing:-0.15px;right:568.60px;text-align:right;">Giova...</div>
<div class="a" style="top:564.76px;font-size:12px;line-height:14.4px;color:#605E5C;letter-spacing:-0.15px;right:568.60px;text-align:right;">Trudy ...</div>
<div class="a" style="top:586.50px;font-size:12px;line-height:14.4px;color:#605E5C;letter-spacing:-0.15px;right:568.60px;text-align:right;">Christi...</div>
<div class="a" style="top:608.24px;font-size:12px;line-height:14.4px;color:#605E5C;letter-spacing:-0.15px;right:568.60px;text-align:right;">Cyndy...</div>
<div class="a" style="top:629.98px;font-size:12px;line-height:14.4px;color:#605E5C;letter-spacing:-0.15px;right:568.60px;text-align:right;">Micha...</div>
<div class="a" style="top:651.72px;font-size:12px;line-height:14.4px;color:#605E5C;letter-spacing:-0.15px;right:568.60px;text-align:right;">Simon...</div>
<div class="a" style="top:673.46px;font-size:12px;line-height:14.4px;color:#605E5C;letter-spacing:-0.15px;right:568.60px;text-align:right;">Berna...</div>
<div class="a" style="top:702.44px;font-size:12px;line-height:14.4px;color:#605E5C;letter-spacing:-0.15px;left:471.50px;width:600px;text-align:center;">0.0M</div>
<div class="a" style="top:702.44px;font-size:12px;line-height:14.4px;color:#605E5C;letter-spacing:-0.15px;left:566.50px;width:600px;text-align:center;">0.5M</div>
<div class="a" style="top:720.02px;font-size:11.6px;line-height:13.92px;color:#333;left:528.10px;width:600px;text-align:center;letter-spacing:-0.3px;-webkit-text-stroke:0.3px #333;">Sum of Revenue</div>
<div class="a" style="left:663.3px;top:479px;width:60px;text-align:center;font-size:10.4px;line-height:12px;color:#333;-webkit-text-stroke:0.3px #333;transform:rotate(-90deg)">Sales Rep</div>
<div class="a" style="top:221.63px;font-size:15.6px;line-height:18.72px;color:#252423;left:687.50px;letter-spacing:0.72px;-webkit-text-stroke:0.25px #252423;">Sum of Revenue by Sales</div>
<div class="a" style="top:241.33px;font-size:15.6px;line-height:18.72px;color:#252423;left:687.50px;letter-spacing:0.72px;-webkit-text-stroke:0.25px #252423;">Rep</div>
<div class="a" style="top:317.29px;font-size:12px;line-height:14.4px;color:#605E5C;letter-spacing:-0.15px;right:363.60px;text-align:right;">Cent...</div>
<div class="a" style="top:381.44px;font-size:12px;line-height:14.4px;color:#605E5C;letter-spacing:-0.15px;right:363.60px;text-align:right;">South</div>
<div class="a" style="top:446.34px;font-size:12px;line-height:14.4px;color:#605E5C;letter-spacing:-0.15px;right:363.60px;text-align:right;">Sout...</div>
<div class="a" style="top:511.04px;font-size:12px;line-height:14.4px;color:#605E5C;letter-spacing:-0.15px;right:363.60px;text-align:right;">West</div>
<div class="a" style="top:575.44px;font-size:12px;line-height:14.4px;color:#605E5C;letter-spacing:-0.15px;right:363.60px;text-align:right;">East</div>
<div class="a" style="top:639.99px;font-size:12px;line-height:14.4px;color:#605E5C;letter-spacing:-0.15px;right:363.60px;text-align:right;">Nort...</div>
<div class="a" style="top:703.24px;font-size:12px;line-height:14.4px;color:#605E5C;letter-spacing:-0.15px;left:676.00px;width:600px;text-align:center;">0M</div>
<div class="a" style="top:703.24px;font-size:12px;line-height:14.4px;color:#605E5C;letter-spacing:-0.15px;left:756.00px;width:600px;text-align:center;">1M</div>
<div class="a" style="top:721.42px;font-size:11.6px;line-height:13.92px;color:#333;left:735.30px;width:600px;text-align:center;letter-spacing:-0.3px;-webkit-text-stroke:0.3px #333;">Sum of Revenue</div>
<div class="a" style="top:223.13px;font-size:15.6px;line-height:18.72px;color:#252423;left:919.30px;letter-spacing:0.72px;-webkit-text-stroke:0.25px #252423;">Sum of Revenue by</div>
<div class="a" style="top:242.83px;font-size:15.6px;line-height:18.72px;color:#252423;left:919.30px;letter-spacing:0.72px;-webkit-text-stroke:0.25px #252423;">Region</div>
<div class="a" style="top:223.23px;font-size:15.6px;line-height:18.72px;color:#252423;left:14.20px;letter-spacing:0.72px;-webkit-text-stroke:0.25px #252423;">Sum of Revenue by Category</div>
<div class="a" style="top:368.83px;font-size:15.6px;line-height:18.72px;color:#252423;left:14.20px;letter-spacing:0.72px;-webkit-text-stroke:0.25px #252423;">Sum of Revenue by Supervisor</div>
<div class="a" style="top:524.03px;font-size:15.6px;line-height:18.72px;color:#252423;left:14.20px;letter-spacing:0.72px;-webkit-text-stroke:0.25px #252423;">Sum of Revenue by Category</div>
<div class="a" style="top:247.84px;font-size:12px;line-height:14.4px;color:#605E5C;letter-spacing:-0.2px;right:1207.70px;text-align:right;">308.43K (17.64%)</div>
<div class="a" style="top:250.64px;font-size:12px;line-height:14.4px;color:#605E5C;letter-spacing:-0.2px;left:204.50px;">802.8K</div>
<div class="a" style="top:266.34px;font-size:12px;line-height:14.4px;color:#605E5C;letter-spacing:-0.2px;left:204.50px;">(45.91%)</div>
<div class="a" style="top:344.14px;font-size:12px;line-height:14.4px;color:#605E5C;letter-spacing:-0.2px;right:1210.00px;text-align:right;">637.27K (36.45%)</div>
<div class="a" style="top:395.44px;font-size:12px;line-height:14.4px;color:#605E5C;letter-spacing:-0.2px;right:1194.50px;text-align:right;">0.18M (10.3%)</div>
<div class="a" style="top:499.54px;font-size:12px;line-height:14.4px;color:#605E5C;letter-spacing:-0.2px;left:205.70px;">1.57M (89.7%)</div>
<div class="a" style="top:558.34px;font-size:12px;line-height:14.4px;color:#605E5C;letter-spacing:-0.2px;right:1215.70px;text-align:right;">308.43K (17.64%)</div>
<div class="a" style="top:567.84px;font-size:12px;line-height:14.4px;color:#605E5C;letter-spacing:-0.2px;left:222.40px;">802.8K</div>
<div class="a" style="top:583.54px;font-size:12px;line-height:14.4px;color:#605E5C;letter-spacing:-0.2px;left:222.40px;">(45.91%)</div>
<div class="a" style="top:700.24px;font-size:12px;line-height:14.4px;color:#605E5C;letter-spacing:-0.2px;right:1218.40px;text-align:right;">637.27K</div>
<div class="a" style="top:716.64px;font-size:12px;line-height:14.4px;color:#605E5C;letter-spacing:-0.2px;right:1218.40px;text-align:right;">(36.45%)</div>
<div class="a" style="top:256.71px;font-size:13.3px;line-height:15.96px;color:#605E5C;font-weight:700;left:294.00px;">Category</div>
<div class="a" style="top:279.48px;font-size:12.8px;line-height:15.36px;color:#605E5C;left:308.00px;">Beverages</div>
<div class="a" style="top:305.48px;font-size:12.8px;line-height:15.36px;color:#605E5C;left:308.00px;">Food</div>
<div class="a" style="top:332.48px;font-size:12.8px;line-height:15.36px;color:#605E5C;left:308.00px;">Cakes &amp; Pastr...</div>
<div class="a" style="top:421.01px;font-size:13.3px;line-height:15.96px;color:#605E5C;font-weight:700;left:328.00px;">Supervisor</div>
<div class="a" style="top:443.98px;font-size:12.8px;line-height:15.36px;color:#605E5C;left:342.00px;">L. Y.</div>
<div class="a" style="top:470.48px;font-size:12.8px;line-height:15.36px;color:#605E5C;left:342.00px;">M. N.</div>
<div class="a" style="top:594.61px;font-size:13.3px;line-height:15.96px;color:#605E5C;font-weight:700;left:294.00px;">Category</div>
<div class="a" style="top:616.48px;font-size:12.8px;line-height:15.36px;color:#605E5C;left:308.00px;">Beverages</div>
<div class="a" style="top:643.08px;font-size:12.8px;line-height:15.36px;color:#605E5C;left:308.00px;">Food</div>
<div class="a" style="top:669.98px;font-size:12.8px;line-height:15.36px;color:#605E5C;left:308.00px;">Cakes &amp; Pastr...</div>
<div class="a" style="top:228.62px;font-size:13.4px;line-height:16.08px;color:#252423;left:1114.40px;">Sum of Revenue trended up,</div>
<div class="a" style="top:247.42px;font-size:13.4px;line-height:16.08px;color:#252423;left:1114.40px;">resulting in a <span class="u">8,060.00%</span> increase</div>
<div class="a" style="top:266.22px;font-size:13.4px;line-height:16.08px;color:#252423;left:1114.40px;">between <span class="u">Tuesday, January 2, 2018</span></div>
<div class="a" style="top:285.02px;font-size:13.4px;line-height:16.08px;color:#252423;left:1114.40px;">and <span class="u">Friday, January 1, 2021</span>.</div>
<div class="a" style="top:322.62px;font-size:13.4px;line-height:16.08px;color:#252423;left:1114.40px;"><span class="ud">Sum of Revenue</span> started trending</div>
<div class="a" style="top:341.42px;font-size:13.4px;line-height:16.08px;color:#252423;left:1114.40px;">up on <span class="u">Tuesday, January 2, 2018</span>,</div>
<div class="a" style="top:360.22px;font-size:13.4px;line-height:16.08px;color:#252423;left:1114.40px;">rising by <span class="u">6,678.67%</span> (<span class="u">2,003.60</span>) in</div>
<div class="a" style="top:379.02px;font-size:13.4px;line-height:16.08px;color:#252423;left:1114.40px;"><span class="u">1.40</span> <span class="u">years</span>.</div>
<div class="a" style="top:416.62px;font-size:13.4px;line-height:16.08px;color:#252423;left:1114.40px;"><span class="u">Sum of Revenue</span> jumped from <span class="u">30</span></div>
<div class="a" style="top:435.42px;font-size:13.4px;line-height:16.08px;color:#252423;left:1114.40px;">to <span class="u">2,033.60</span> during its steepest</div>
<div class="a" style="top:454.22px;font-size:13.4px;line-height:16.08px;color:#252423;left:1114.40px;">incline between</div>
<div class="a" style="top:473.02px;font-size:13.4px;line-height:16.08px;color:#252423;left:1114.40px;"><span class="u">Tuesday, January 2, 2018</span> and</div>
<div class="a" style="top:491.82px;font-size:13.4px;line-height:16.08px;color:#252423;left:1114.40px;"><span class="u">Monday, May 27, 2019</span>.</div>
<div class="a" style="top:529.42px;font-size:13.4px;line-height:16.08px;color:#252423;left:1114.40px;"><span class="u">Beverages</span> had the highest Sum</div>
<div class="a" style="top:548.22px;font-size:13.4px;line-height:16.08px;color:#252423;left:1114.40px;">of Revenue at <span class="u">802,802.50</span>,</div>
<div class="a" style="top:567.02px;font-size:13.4px;line-height:16.08px;color:#252423;left:1114.40px;">followed by <span class="u">Food</span> at <span class="u">637,270.70</span></div>
<div class="a" style="top:585.82px;font-size:13.4px;line-height:16.08px;color:#252423;left:1114.40px;">and <span class="u">Cakes &amp; Pastries</span> at</div>
<div class="a" style="top:604.62px;font-size:13.4px;line-height:16.08px;color:#252423;left:1114.40px;"><span class="u">308,426.90</span>.</div>
<div class="a" style="top:642.22px;font-size:13.4px;line-height:16.08px;color:#252423;left:1114.40px;"><span class="u">Beverages</span> accounted for <span class="u">45.91%</span></div>
<div class="a" style="top:661.02px;font-size:13.4px;line-height:16.08px;color:#252423;left:1114.40px;">of Sum of Revenue.</div>
<div class="a" style="top:698.62px;font-size:13.4px;line-height:16.08px;color:#252423;left:1114.40px;">At <span class="u">363,224.40</span>, <span class="u">Cappuccino</span> had</div>
<div class="a" style="top:717.42px;font-size:13.4px;line-height:16.08px;color:#252423;left:1114.40px;">the highest Sum of Revenue and</div>
<svg style="position:absolute;left:0;top:0;mix-blend-mode:multiply" width="1331" height="739" viewBox="0 0 1331 739">
<g fill="#e4e4e4" stroke="none">
<path d="M585 711 H592 V717.5 H744.3 V722.8 H590 Q585 722.8 585 718 Z"/>
<rect x="597" y="694" width="6" height="6" transform="rotate(45 600 697)"/>
<rect x="607.2" y="693.3" width="6" height="6" transform="rotate(45 610.2 696.3)"/>
<rect x="726.2" y="693.2" width="6" height="6" transform="rotate(45 729.2 696.2)"/>
<path d="M625.8 696 Q625.8 692.8 628.8 692.8 Q631.8 692.8 631.8 696 V718 H625.8 Z"/>
<rect x="614.8" y="703" width="4" height="15"/>
<rect x="645.5" y="711.5" width="5" height="7"/>
<rect x="674.8" y="702.5" width="4.2" height="16"/>
<rect x="685.3" y="692.4" width="9.4" height="4.2"/>
<rect x="685.3" y="692.4" width="4.3" height="13.5"/>
<path d="M686 712.3 Q688 703 695 702.5 V707 Q690.5 707.5 690 712.3 Z"/>
<rect x="696.9" y="692.4" width="9.8" height="4.4"/>
<path d="M696.9 702.5 Q707.8 702.5 707.8 712.5 Q707.8 722.8 696.9 722.8 V718 Q703.2 718 703.2 712.5 Q703.2 707 696.9 707 Z"/>
<path d="M718.3 707 Q729 699.5 738 702.5 Q744.3 706 744.3 716 V720 H739.6 V716 Q739.6 709 735 707 Q728 705 720.6 710.2 Z"/>
</g></svg>
</body></html>
